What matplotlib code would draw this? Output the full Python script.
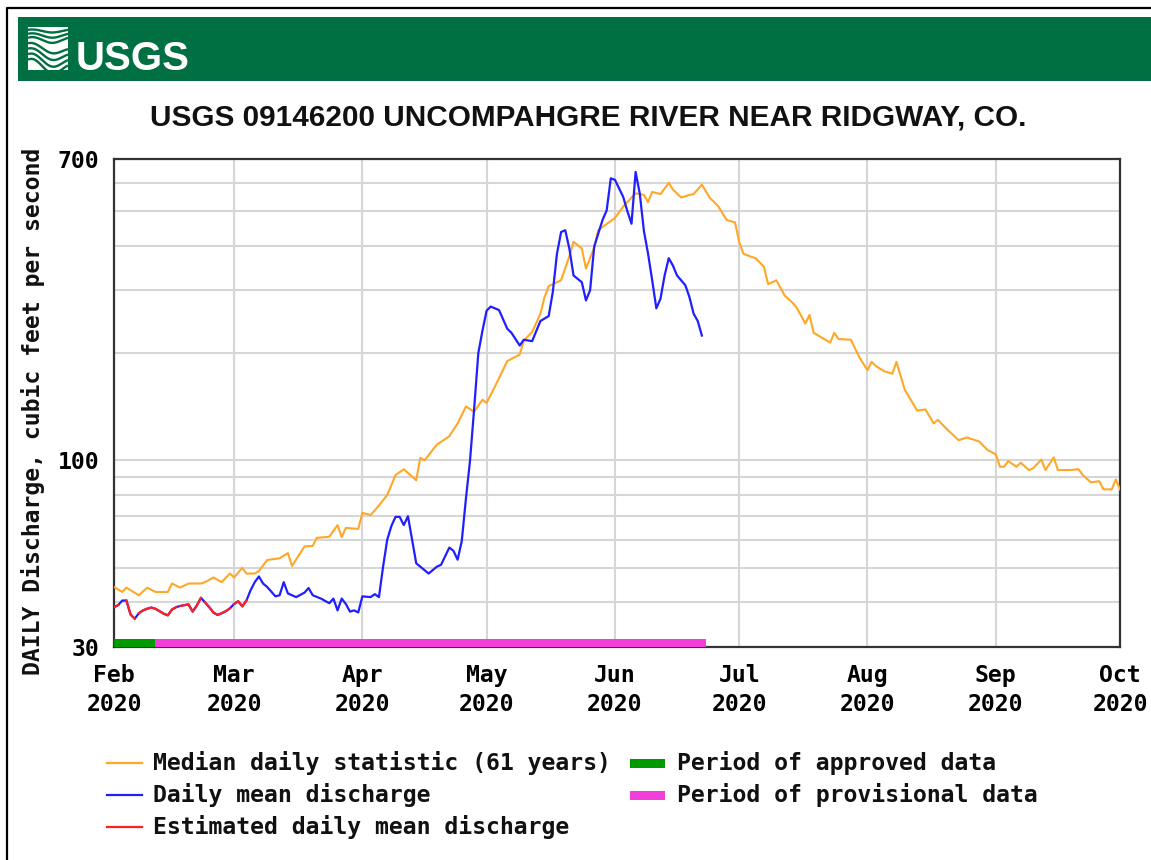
import numpy as np
import matplotlib
matplotlib.use("Agg")
import matplotlib.pyplot as plt
import matplotlib.dates as mdates
from matplotlib.patches import Rectangle
from matplotlib.lines import Line2D
from matplotlib.font_manager import FontProperties, findfont
from matplotlib.ticker import FixedLocator, NullFormatter

# ---------------- data ----------------
start_date = "2020-02-01"
end_date = "2020-10-01"

# Median daily statistic (61 years): days since Feb 1 2020, cfs
median_day = [0, 2, 3, 6, 8, 10, 13, 14, 16, 18, 21, 22, 24, 26, 28, 29, 31, 32, 34, 35,
              37, 40, 42, 43, 46, 48, 49, 52, 54, 55, 56, 59, 60, 62, 64, 66, 68, 70, 73, 74,
              75, 78, 81, 82, 83, 85, 87, 89, 90, 92, 95, 98, 99, 101, 103, 104, 105, 108, 110, 111,
              113, 114, 116, 117, 121, 123, 126, 128, 129, 130, 132, 134, 135, 137, 139, 140, 142, 144, 145, 146,
              148, 150, 151, 152, 154, 155, 157, 158, 160, 162, 164, 165, 167, 168, 169, 173, 174, 175, 178, 180,
              182, 183, 184, 186, 188, 189, 191, 192, 194, 196, 198, 199, 201, 204, 206, 209, 211, 213, 214, 215,
              216, 218, 219, 221, 222, 224, 225, 227, 228, 231, 233, 234, 236, 238, 239, 241, 242, 243]
median_cfs = [44.2, 42.8, 44.0, 41.9, 44.0, 42.8, 42.8, 45.2, 44.0, 45.2, 45.2, 45.6, 47.0, 45.6, 48.2, 47.0, 50.0, 48.2, 48.2, 49.0,
              52.6, 53.2, 55.0, 50.6, 57.4, 57.6, 60.7, 61.1, 65.9, 61.0, 64.7, 64.3, 71.3, 70.3, 74.8, 80.0, 91.0, 94.5, 88.0, 101.7,
              100.0, 110.8, 116.9, 122.0, 127.0, 141.7, 137.0, 148.0, 145.0, 161.0, 190.0, 198.0, 217.0, 229.0, 258.0, 287.0, 308.0, 320.0, 374.0, 410.0,
              393.0, 345.0, 395.0, 443.0, 478.0, 515.0, 561.0, 555.0, 530.0, 566.0, 558.0, 600.0, 575.0, 546.0, 555.0, 558.0, 593.0, 543.0, 530.0, 515.0,
              472.0, 465.0, 411.0, 380.0, 372.0, 369.0, 349.0, 312.0, 320.0, 290.0, 276.0, 267.0, 242.0, 256.0, 228.0, 214.0, 228.0, 219.0, 218.0, 195.0,
              179.0, 189.0, 184.0, 178.0, 175.0, 189.0, 158.0, 151.0, 138.0, 139.0, 127.0, 130.0, 123.0, 114.0, 116.0, 113.0, 107.0, 104.0, 96.0, 96.0,
              99.6, 96.0, 98.6, 94.0, 95.0, 100.6, 94.0, 102.0, 94.0, 94.0, 94.5, 91.0, 86.8, 87.5, 83.0, 83.0, 88.5, 83.0]

# Daily mean discharge: days since Feb 1 2020, cfs
daily_day = list(range(0, 38)) + [39, 40, 41, 42, 44, 46, 47, 48, 50, 52, 53, 54, 55, 56, 57, 58, 59, 60,
              62, 63, 64, 65, 66, 67, 68, 69, 70, 71, 72, 73, 76, 78, 79, 81, 82, 83, 84, 85, 86, 87,
              88, 89, 90, 91, 92, 93, 95, 96, 98, 99, 101, 103, 105, 106, 107, 108, 109, 110, 111, 113,
              114, 115, 116, 118, 119, 120, 121, 123, 124, 125, 126, 127, 128, 129, 130, 131, 132, 133, 134, 135,
              136, 138, 139, 140, 141, 142]
daily_cfs = [38.8, 39.3, 40.5, 40.5, 37.0, 36.0, 37.3, 38.0, 38.4, 38.7, 38.4, 37.8, 37.2, 36.8, 38.2, 38.8, 39.1, 39.3, 39.5, 37.7,
             39.2, 41.2, 40.0, 38.8, 37.5, 36.9, 37.3, 37.8, 38.5, 39.6, 40.3, 39.0, 40.5, 43.3, 45.6, 47.3, 45.2, 44.2,
             41.6, 41.9, 45.6, 42.4, 41.4, 42.6, 43.9, 41.9, 41.0, 39.8, 41.0, 38.0, 41.0, 39.6, 37.7, 38.0, 37.5, 41.6,
             41.4, 42.2, 41.4, 50.4, 60.0, 65.5, 69.5, 69.5, 65.9, 69.8, 60.0, 51.5, 48.2, 50.4, 51.0, 57.0, 55.8, 52.7, 59.4, 78.0, 100.0, 140.0,
             200.0, 231.0, 263.0, 270.0, 267.0, 264.0, 234.0, 228.0, 210.0, 218.0, 216.0, 246.0, 254.0, 297.0, 380.0, 437.0, 442.0, 392.0, 330.0, 316.0,
             281.0, 300.0, 398.0, 472.0, 502.0, 618.0, 612.0, 548.0, 500.0, 461.0, 644.0, 560.0, 440.0, 380.0, 320.0, 267.0, 284.0, 330.0, 369.0, 352.0,
             330.0, 310.0, 287.0, 258.0, 246.0, 224.0]

# Runs of estimated days (first day, last day), days since Feb 1 2020
estimated_runs = [(0, 1), (3, 5), (6, 15), (16, 21), (22, 28), (29, 32)]

approved_period = ("2020-02-01", "2020-02-11")
provisional_period = ("2020-02-11", "2020-06-23")

month_ticks = ["2020-02-01", "2020-03-01", "2020-04-01", "2020-05-01", "2020-06-01",
               "2020-07-01", "2020-08-01", "2020-09-01", "2020-10-01"]
month_labels = ["Feb\n2020", "Mar\n2020", "Apr\n2020", "May\n2020", "Jun\n2020",
                "Jul\n2020", "Aug\n2020", "Sep\n2020", "Oct\n2020"]
y_labeled_ticks = [30, 100, 700]
y_grid_values = [40, 50, 60, 70, 80, 90, 200, 300, 400, 500, 600]

logo_text = "USGS"
title = "USGS 09146200 UNCOMPAHGRE RIVER NEAR RIDGWAY, CO."
y_label = "DAILY Discharge, cubic feet per second"
legend_left = ["Median daily statistic (61 years)", "Daily mean discharge", "Estimated daily mean discharge"]
legend_right = ["Period of approved data", "Period of provisional data"]

# ---------------- styling ----------------
W, H = 1151, 860
C_MED = "#ffa726"
C_BLUE = "#1f1fff"
C_RED = "#ff2020"
C_APPROVED = "#009900"
C_PROV = "#f23fdc"
C_HEADER = "#006f41"
C_GRID = "#d6d6d6"
MONO = ["DejaVu Sans Mono"]
FS = 16.7

def to_num(days):
    d0 = np.datetime64(start_date)
    return mdates.date2num(d0 + np.array(days, dtype="timedelta64[D]"))

def dnum(s):
    return mdates.date2num(np.datetime64(s))

def fx(x):
    return x / W

def fy(y):
    return 1 - y / H

fig = plt.figure(figsize=(W / 100, H / 100), dpi=100)
fig.patch.set_facecolor("white")

# outer border (left & top)
fig.add_artist(Line2D([fx(7.5), fx(7.5), 1.0], [0.0, fy(7.5), fy(7.5)],
                      transform=fig.transFigure, color="black", lw=1.6))

# header bar
hdr = Rectangle((fx(18), fy(81)), 1 - fx(18), 64 / H, transform=fig.transFigure,
                facecolor=C_HEADER, edgecolor="none", zorder=-5)
fig.add_artist(hdr)

# wave icon
icon_ax = fig.add_axes([fx(28), fy(70), 40 / W, 43 / H], zorder=5)
icon_ax.set_xlim(0, 40)
icon_ax.set_ylim(0, 43)
icon_ax.axis("off")
icon_ax.add_patch(Rectangle((0, 0), 40, 43, facecolor="white", edgecolor="none"))
t = np.linspace(0, 40, 200)
for k, base in enumerate([39, 34.5, 30, 24, 18, 12, 6]):
    amp = 1.5 + 0.7 * k
    icon_ax.plot(t, base + amp * np.sin(t / 40 * 2 * np.pi + 0.9) - 0.15 * t * (k > 2),
                 color=C_HEADER, lw=1.7, solid_capstyle="butt")

# USGS wordmark (real text, narrow font if present)
try:
    findfont(FontProperties(family="Liberation Sans Narrow", weight="bold"), fallback_to_default=False)
    logo_family, logo_size = ["Liberation Sans Narrow", "DejaVu Sans"], 35
except Exception:
    logo_family, logo_size = ["Liberation Sans", "DejaVu Sans"], 29
fig.text(fx(76), fy(70), logo_text, ha="left", va="baseline", fontsize=logo_size,
         fontweight="bold", family=logo_family, color="white", zorder=6)

# title
fig.text(fx(588), fy(117), title, ha="center", va="center", fontsize=21.4, fontweight="bold",
         family=["Liberation Sans", "DejaVu Sans"], color="#111111")

# main axes
ax = fig.add_axes([fx(114), fy(647), (1120 - 114) / W, (647 - 159) / H])
ax.set_yscale("log")
ax.set_ylim(30, 700)
ax.set_xlim(dnum(start_date), dnum(end_date))

ax.set_yticks(y_labeled_ticks)
ax.set_yticklabels([str(v) for v in y_labeled_ticks])
ax.yaxis.set_minor_locator(FixedLocator(y_grid_values))
ax.yaxis.set_minor_formatter(NullFormatter())
ax.set_xticks([dnum(s) for s in month_ticks])
ax.set_xticklabels(month_labels)

ax.grid(True, which="both", color=C_GRID, lw=1.5)
ax.set_axisbelow(True)
ax.tick_params(axis="both", which="both", length=0)
ax.tick_params(axis="y", pad=10.5)
ax.tick_params(axis="x", pad=12.5)
for lab in ax.get_xticklabels() + ax.get_yticklabels():
    lab.set_family(MONO)
    lab.set_fontweight("bold")
    lab.set_fontsize(FS)
for lab in ax.get_xticklabels():
    lab.set_linespacing(1.3)
for sp in ax.spines.values():
    sp.set_color("#333333")
    sp.set_linewidth(1.6)

# lines
ax.plot(to_num(median_day), median_cfs, color=C_MED, lw=1.5, zorder=3)
dd = np.array(daily_day)
dc = np.array(daily_cfs)
ax.plot(to_num(dd), dc, color=C_BLUE, lw=1.6, zorder=4)
for a, b in estimated_runs:
    m = (dd >= a) & (dd <= b)
    ax.plot(to_num(dd[m]), dc[m], color=C_RED, lw=1.6, zorder=5)

# data-period bars
bar_h = 8 / (647 - 159)
ax.axvspan(dnum(approved_period[0]), dnum(approved_period[1]), ymin=0, ymax=bar_h,
           color=C_APPROVED, zorder=6, lw=0)
ax.axvspan(dnum(provisional_period[0]), dnum(provisional_period[1]), ymin=0, ymax=bar_h,
           color=C_PROV, zorder=6, lw=0)

# y label
fig.text(fx(33), fy(411), y_label, rotation=90, ha="center", va="center",
         family=MONO, fontweight="bold", fontsize=FS, color="#111111")

# legend
rows = [763, 795, 827]
for label, color, y in zip(legend_left, [C_MED, C_BLUE, C_RED], rows):
    fig.add_artist(Line2D([fx(107), fx(142)], [fy(y), fy(y)], transform=fig.transFigure, color=color, lw=1.6))
    fig.text(fx(153), fy(y), label, ha="left", va="center", family=MONO, fontweight="bold",
             fontsize=FS, color="#111111")
for label, color, y in zip(legend_right, [C_APPROVED, C_PROV], rows[:2]):
    fig.add_artist(Rectangle((fx(630), fy(y + 4.5)), 35 / W, 9 / H, transform=fig.transFigure,
                             facecolor=color, edgecolor="none"))
    fig.text(fx(677), fy(y), label, ha="left", va="center", family=MONO, fontweight="bold",
             fontsize=FS, color="#111111")

fig.savefig("out.png", dpi=100)
